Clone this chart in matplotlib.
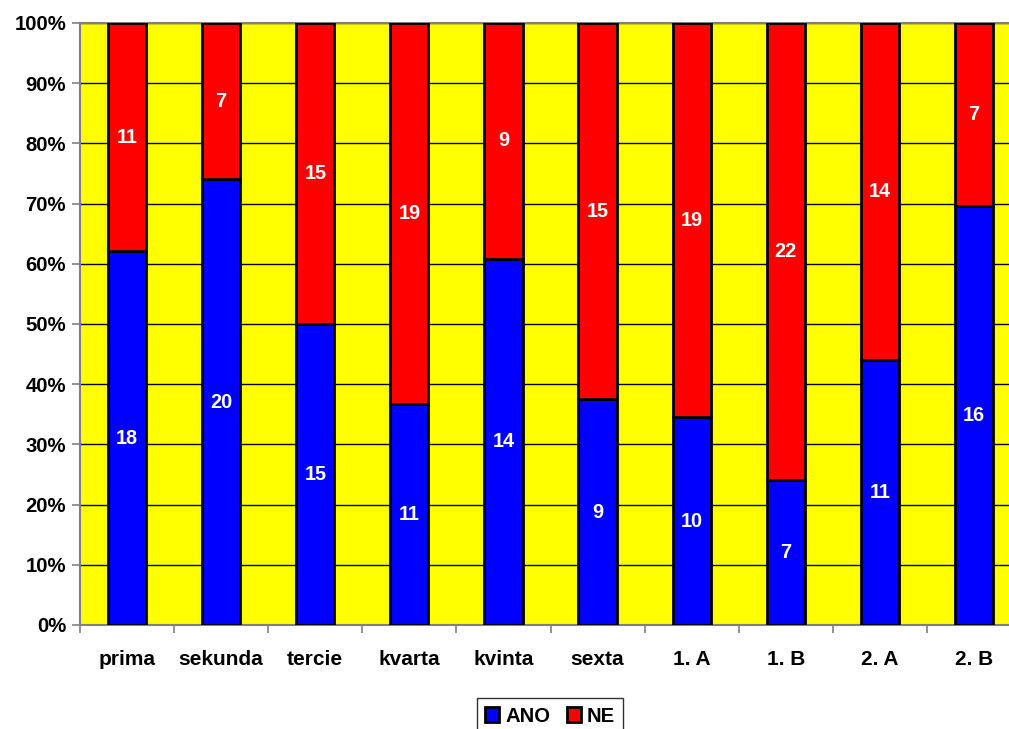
import matplotlib
matplotlib.use("Agg")
import matplotlib.pyplot as plt
import numpy as np

categories = ["prima", "sekunda", "tercie", "kvarta", "kvinta", "sexta", "1. A", "1. B", "2. A", "2. B"]
ano = [18, 20, 15, 11, 14, 9, 10, 7, 11, 16]
ne = [11, 7, 15, 19, 9, 15, 19, 22, 14, 7]
yticks = [0, 10, 20, 30, 40, 50, 60, 70, 80, 90, 100]

plt.rcParams['font.family'] = ['Liberation Sans', 'DejaVu Sans']
plt.rcParams['font.weight'] = 'bold'

W, H = 1009, 729
fig = plt.figure(figsize=(W/100, H/100), dpi=100)
ax = fig.add_axes([80/W, 1-625/H, 941/W, 602/H])
ax.set_facecolor('#FFFF00')

ano_a = np.array(ano, float)
ne_a = np.array(ne, float)
tot = ano_a + ne_a
ano_p = ano_a / tot * 100
ne_p = ne_a / tot * 100
x = np.arange(len(categories))
bw = 0.405
b1 = ax.bar(x, ano_p, bw, color='#0000FF', edgecolor='black', linewidth=2, label='ANO', zorder=3)
b2 = ax.bar(x, ne_p, bw, bottom=ano_p, color='#FF0000', edgecolor='black', linewidth=2, label='NE', zorder=3)

for i in range(len(x)):
    ax.text(x[i], ano_p[i]/2, str(ano[i]), ha='center', va='center', color='white', fontsize=14.3, fontweight='bold', zorder=4)
    ax.text(x[i], ano_p[i] + ne_p[i]/2, str(ne[i]), ha='center', va='center', color='white', fontsize=14.3, fontweight='bold', zorder=4)

ax.set_xlim(-0.5, len(categories)-0.5)
ax.set_ylim(0, 100)
ax.set_yticks(yticks)
ax.set_yticklabels([f"{t}%" for t in yticks], fontsize=14.6, fontweight='bold')
ax.set_xticks(np.arange(len(categories)+1) - 0.5, minor=False)
ax.set_xticklabels([])
ax.set_xticks(x, minor=True)
ax.set_xticklabels(categories, minor=True, fontsize=15, fontweight='bold')
ax.tick_params(axis='x', which='minor', length=0, pad=18)
ax.tick_params(axis='x', which='major', length=6, color='#808080', width=1.2)
ax.tick_params(axis='y', length=6, color='#808080', width=1.2, pad=4)
ax.yaxis.grid(True, color='black', linewidth=1, zorder=0)
ax.set_axisbelow(True)
for s in ax.spines.values():
    s.set_color('#808080')
    s.set_linewidth(1.5)

leg = fig.legend(handles=[b1, b2], labels=['ANO', 'NE'], loc='center', bbox_to_anchor=(550/W, 1-716/H),
                 ncol=2, frameon=True, fancybox=False, edgecolor='black', fontsize=14.6,
                 handlelength=0.7, handleheight=0.7, handletextpad=0.3, columnspacing=0.8, borderpad=0.4)
leg.get_frame().set_linewidth(1)
for t in leg.get_texts():
    t.set_fontweight('bold')

fig.savefig('out.png', dpi=100)
